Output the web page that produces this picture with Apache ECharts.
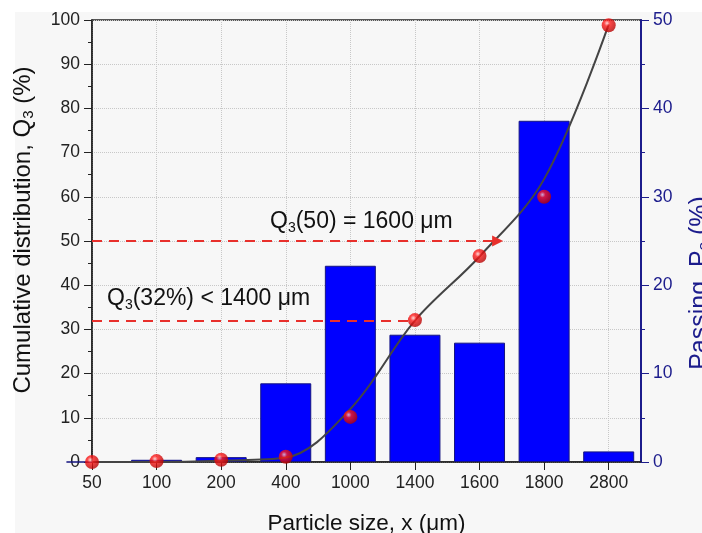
<!DOCTYPE html>
<html>
<head>
<meta charset="utf-8">
<script src="https://cdn.jsdelivr.net/npm/echarts@6/dist/echarts.min.js"></script>
<style>
  html, body { margin: 0; padding: 0; background: #f7f7f7; }
  #chart { width: 702px; height: 533px; }
</style>
</head>
<body>
<div id="chart"></div>
<script>
// particle size classes (um)
const sizes = ['50', '100', '200', '400', '1000', '1400', '1600', '1800', '2800'];
// passing P3 (%) - bars, right axis
const passing = [0, 0.25, 0.55, 8.9, 22.2, 14.4, 13.5, 38.6, 1.2];
// cumulative distribution Q3 (%) - red points, left axis
const cumulative = [0, 0.2, 0.5, 1.2, 10.2, 32.1, 46.6, 60, 98.8];
const fitCurve = [0, 0, 0.3, 1, 12, 32, 46.5, 64, 99];
// axis ranges
const leftAxis = { min: 0, max: 100, step: 10 };
const rightAxis = { min: 0, max: 50, step: 10 };
// annotation levels (Q3 %) and where the dashed lines stop (class index)
const q50 = { level: 50, end: 6.28 };
const q32 = { level: 32, end: 5 };

const font = 'Liberation Sans, Arial, sans-serif';
const navy = '#1c1c8c';

const chart = echarts.init(document.getElementById('chart'));

const ball = {
  type: 'radial', x: 0.38, y: 0.35, r: 0.7,
  colorStops: [
    { offset: 0, color: '#ffd0d0' },
    { offset: 0.3, color: '#ff1a1a' },
    { offset: 1, color: '#b00000' }
  ]
};

const option = {
  backgroundColor: '#f7f7f7',
  animation: false,
  grid: {
    left: 92, right: 61, top: 20, bottom: 71,
    outerBoundsMode: 'none',
    containLabel: false,
    show: true, borderColor: '#222', borderWidth: 1.5, backgroundColor: 'transparent'
  },
  xAxis: {
    type: 'value',
    min: 0,
    max: 8.5,
    interval: 1,
    name: 'Particle size, x (μm)',
    nameLocation: 'middle',
    nameGap: 50,
    nameTextStyle: { fontFamily: font, fontSize: 22.5, color: '#111' },
    axisLine: { show: true, lineStyle: { color: '#222', width: 1.5 } },
    axisTick: { show: true, inside: false, length: 8, lineStyle: { color: '#222' }, customValues: sizes.map((s, i) => i) },
    axisLabel: {
      fontFamily: font, fontSize: 17.5, color: '#222', margin: 12,
      customValues: sizes.map((s, i) => i),
      formatter: v => sizes[v] || ''
    },
    splitLine: { show: true, lineStyle: { color: '#c8c8c8', type: 'dotted' } }
  },
  yAxis: [
    {
      type: 'value',
      min: leftAxis.min, max: leftAxis.max, interval: leftAxis.step,
      name: '{n|Cumulative distribution, Q}{s|3}{n| (%)}',
      nameLocation: 'middle',
      nameGap: 56,
      nameTextStyle: {
        padding: [0, 0, 0, 22],
        rich: {
          n: { fontFamily: font, fontSize: 24, color: '#111', lineHeight: 26 },
          s: { fontFamily: font, fontSize: 15, color: '#111', lineHeight: 12, verticalAlign: 'bottom' }
        }
      },
      axisLine: { show: true, lineStyle: { color: '#222', width: 1.5 } },
      axisTick: { show: true, inside: false, length: 8, lineStyle: { color: '#222' } },
      minorTick: { show: true, splitNumber: 2, length: 4, lineStyle: { color: '#222' } },
      axisLabel: { fontFamily: font, fontSize: 17.5, color: '#222', margin: 12 },
      splitLine: { show: true, lineStyle: { color: '#c8c8c8', type: 'dotted' } }
    },
    {
      type: 'value',
      position: 'right',
      min: rightAxis.min, max: rightAxis.max, interval: rightAxis.step,
      name: '{n|Passing, P}{s|3}{n| (%)}',
      nameLocation: 'middle',
      nameGap: 46,
      nameTextStyle: {
        padding: [0, 84, 0, 0],
        rich: {
          n: { fontFamily: font, fontSize: 25, color: navy, lineHeight: 26 },
          s: { fontFamily: font, fontSize: 15, color: navy, lineHeight: 12, verticalAlign: 'bottom' }
        }
      },
      axisLine: { show: true, lineStyle: { color: navy, width: 2 } },
      axisTick: { show: true, inside: false, length: 8, lineStyle: { color: navy } },
      minorTick: { show: true, splitNumber: 2, length: 4, lineStyle: { color: navy } },
      axisLabel: { fontFamily: font, fontSize: 17.5, color: navy, margin: 12 },
      splitLine: { show: false }
    }
  ],
  series: [
    {
      name: 'Passing',
      type: 'bar',
      yAxisIndex: 1,
      barWidth: 51,
      data: passing.map((v, i) => [i, v]),
      itemStyle: { color: '#0000ff', borderColor: '#151580', borderWidth: 1 },
      z: 2
    },
    {
      name: 'Fit',
      type: 'line',
      yAxisIndex: 0,
      smooth: 0.35,
      showSymbol: false,
      data: fitCurve.map((v, i) => [i, v]),
      lineStyle: { color: '#444', width: 2 },
      z: 3,
      markLine: {
        silent: true,
        symbol: ['none', 'triangle'],
        symbolSize: 11,
        lineStyle: { color: '#e8302c', type: [10, 7], width: 2 },
        itemStyle: { color: '#e8302c' },
        label: { show: false },
        data: [
          [{ coord: [0, q50.level] }, { coord: [q50.end, q50.level] }],
          [{ coord: [0, q32.level], symbol: 'none' }, { coord: [q32.end, q32.level], symbol: 'none' }]
        ]
      }
    },
    {
      name: 'Cumulative',
      type: 'scatter',
      yAxisIndex: 0,
      symbolSize: 14,
      data: cumulative.map((v, i) => [i, v]),
      itemStyle: { color: ball },
      z: 4
    }
  ],
  graphic: [
    { type: 'rect', z: -10, shape: { x: 0, y: 0, width: 702, height: 12 }, style: { fill: '#ffffff' } },
    { type: 'rect', z: -10, shape: { x: 0, y: 0, width: 15, height: 533 }, style: { fill: '#ffffff' } },
    {
      type: 'text', z: 100, x: 270, y: 222,
      style: {
        text: '{n|Q}{s|3}{n|(50) = 1600 μm}',
        verticalAlign: 'middle',
        rich: {
          n: { fontFamily: font, fontSize: 23, fill: '#111', lineHeight: 26 },
          s: { fontFamily: font, fontSize: 14, fill: '#111', lineHeight: 12, verticalAlign: 'bottom' }
        }
      }
    },
    {
      type: 'text', z: 100, x: 107, y: 299,
      style: {
        text: '{n|Q}{s|3}{n|(32%) < 1400 μm}',
        verticalAlign: 'middle',
        rich: {
          n: { fontFamily: font, fontSize: 23, fill: '#111', lineHeight: 26 },
          s: { fontFamily: font, fontSize: 14, fill: '#111', lineHeight: 12, verticalAlign: 'bottom' }
        }
      }
    }
  ]
};

chart.setOption(option);
</script>
</body>
</html>
